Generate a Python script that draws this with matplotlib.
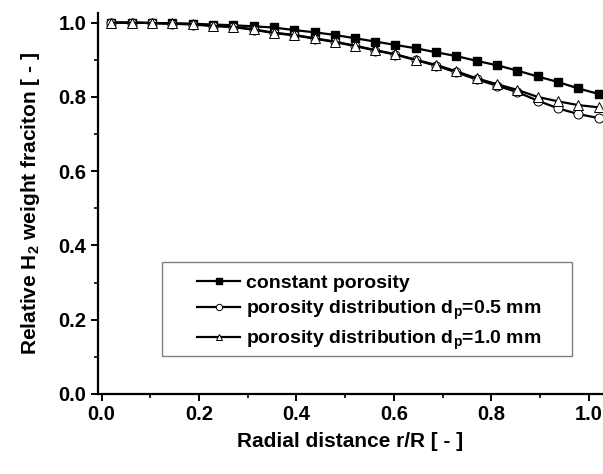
import numpy as np
import matplotlib
matplotlib.use("Agg")
import matplotlib.pyplot as plt
from matplotlib.patches import Rectangle
from matplotlib.ticker import MultipleLocator

plt.rcParams['font.family'] = ['Liberation Sans', 'DejaVu Sans']
plt.rcParams['font.weight'] = 'bold'
plt.rcParams['mathtext.fontset'] = 'custom'
plt.rcParams['mathtext.rm'] = 'Liberation Sans:bold'
plt.rcParams['mathtext.it'] = 'Liberation Sans:bold'
plt.rcParams['mathtext.bf'] = 'Liberation Sans:bold'

# radial position r/R
r = [0.020, 0.062, 0.103, 0.145, 0.187, 0.228, 0.270, 0.312, 0.353, 0.395,
     0.437, 0.478, 0.520, 0.562, 0.603, 0.645, 0.687, 0.728, 0.770, 0.812,
     0.853, 0.895, 0.937, 0.978, 1.020]

# relative H2 weight fraction
const_por = [1.000, 1.000, 0.999, 0.998, 0.997, 0.995, 0.993, 0.990, 0.987, 0.980,
             0.974, 0.967, 0.958, 0.949, 0.940, 0.931, 0.920, 0.910, 0.897, 0.885,
             0.871, 0.855, 0.840, 0.823, 0.808]
dist_05 = [1.000, 1.000, 0.999, 0.997, 0.995, 0.991, 0.988, 0.981, 0.972, 0.966,
           0.957, 0.948, 0.937, 0.925, 0.914, 0.899, 0.884, 0.866, 0.847, 0.830,
           0.813, 0.790, 0.769, 0.754, 0.743]
dist_10 = [1.000, 1.000, 0.999, 0.998, 0.996, 0.992, 0.989, 0.982, 0.973, 0.967,
           0.958, 0.949, 0.938, 0.926, 0.915, 0.900, 0.886, 0.869, 0.850, 0.834,
           0.819, 0.800, 0.788, 0.778, 0.772]

labels = ['constant porosity',
          r'porosity distribution d$_\mathrm{p}$=0.5 mm',
          r'porosity distribution d$_\mathrm{p}$=1.0 mm']

fig = plt.figure(figsize=(6.03, 4.74), dpi=100)
ax = fig.add_axes([0.162, 0.1688, 0.838, 0.803])

ax.plot(r, const_por, '-s', color='black', lw=1.6, ms=5.5, mfc='black', mec='black',
        label=labels[0])
ax.plot(r, dist_05, '-o', color='black', lw=1.6, ms=6.5, mfc='white', mec='black',
        mew=0.7, label=labels[1])
ax.plot(r, dist_10, '-^', color='black', lw=1.6, ms=7, mfc='white', mec='black',
        mew=0.7, label=labels[2])

ax.set_xlim(-0.008, 1.029)
ax.set_ylim(0, 1.025)
ax.xaxis.set_major_locator(MultipleLocator(0.2))
ax.xaxis.set_minor_locator(MultipleLocator(0.1))
ax.yaxis.set_major_locator(MultipleLocator(0.2))
ax.yaxis.set_minor_locator(MultipleLocator(0.1))
ax.set_xticks([0.0, 0.2, 0.4, 0.6, 0.8, 1.0])
ax.set_xticklabels(['0.0', '0.2', '0.4', '0.6', '0.8', '1.0'])
ax.set_yticklabels(['%.1f' % v for v in ax.get_yticks()])

for s in ['top', 'right']:
    ax.spines[s].set_visible(False)
for s in ['left', 'bottom']:
    ax.spines[s].set_linewidth(1.6)

ax.tick_params(which='major', direction='out', length=5, width=1.4, labelsize=14.5, pad=3)
ax.tick_params(which='minor', direction='out', length=3, width=1.2)

ax.set_xlabel('Radial distance r/R [ - ]', fontsize=15, fontweight='bold', labelpad=6)
ax.set_ylabel(r'Relative H$_\mathrm{2}$ weight fraciton [ - ]', fontsize=15,
              fontweight='bold', labelpad=12)

# legend box
ax.add_patch(Rectangle((0.127, 0.0998), 0.812, 0.247, transform=ax.transAxes,
                       facecolor='white', edgecolor='#808080', lw=1.0, zorder=4))
leg = ax.legend(loc='upper left', bbox_to_anchor=(0.197, 0.315), frameon=False,
                borderpad=0, borderaxespad=0, handlelength=2.2, handletextpad=0.3,
                labelspacing=0.35, numpoints=1, markerscale=0.7,
                prop={'size': 14, 'weight': 'bold'})
leg.set_zorder(5)

fig.savefig('out.png', dpi=100)
